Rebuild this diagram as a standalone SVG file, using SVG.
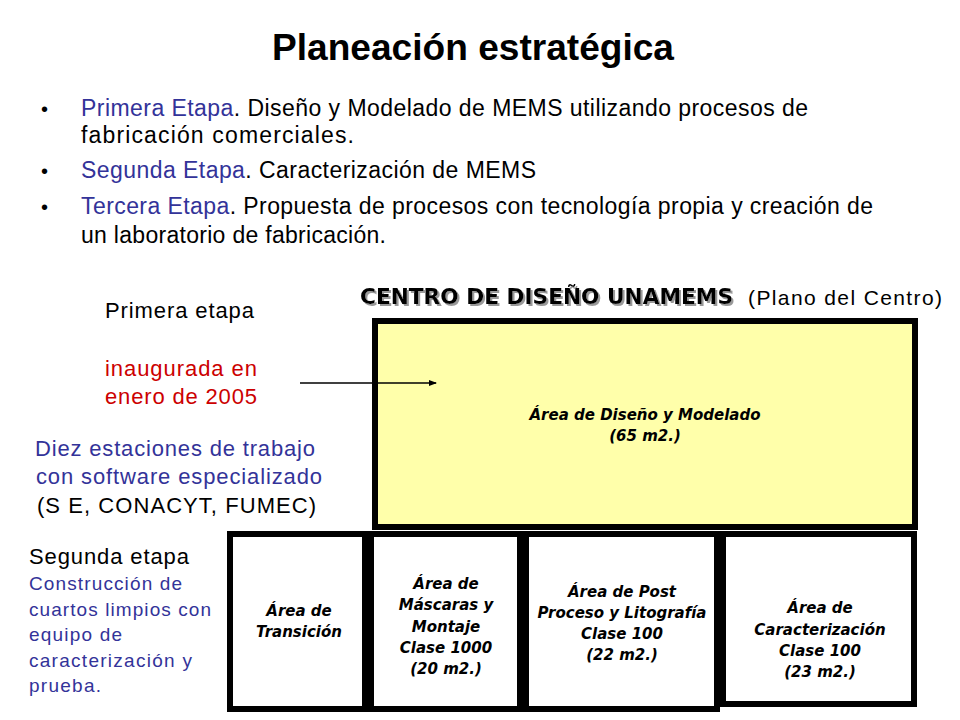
<svg xmlns="http://www.w3.org/2000/svg" width="960" height="720" viewBox="0 0 960 720">
<defs>
<style>
.t{font-family:"Liberation Sans",Arial,sans-serif;fill:#000}
.b{fill:#333399}
.r{fill:#CC0000}
.lbl{font-family:"DejaVu Sans",Verdana,sans-serif;font-weight:bold;font-style:italic;font-size:15px;fill:#000;text-anchor:middle}
.room{stroke:#000;stroke-width:6;fill:#fff}
</style>
<filter id="shadow" x="-5%" y="-30%" width="110%" height="160%">
<feOffset in="SourceAlpha" dx="2" dy="2" result="off"/>
<feFlood flood-color="#999999"/>
<feComposite in2="off" operator="in" result="sh"/>
<feMerge><feMergeNode in="sh"/><feMergeNode in="SourceGraphic"/></feMerge>
</filter>
<marker id="ah" markerWidth="8" markerHeight="8" refX="7" refY="4" orient="auto" markerUnits="userSpaceOnUse">
<path d="M0,1 L8,4 L0,7 Z" fill="#000"/>
</marker>
</defs>
<rect width="960" height="720" fill="#fff"/>

<g id="title">
<text class="t" x="272" y="60" font-size="37" font-weight="bold" textLength="402" lengthAdjust="spacingAndGlyphs">Planeación estratégica</text>
</g>

<g id="bullets" class="t" font-size="23">
<text x="41" y="116" font-size="20">•</text>
<text x="81" y="116" textLength="727" lengthAdjust="spacing"><tspan class="b">Primera Etapa</tspan>. Diseño y Modelado de MEMS utilizando procesos de</text>
<text x="81" y="143" textLength="273" lengthAdjust="spacing">fabricación comerciales.</text>
<text x="41" y="178" font-size="20">•</text>
<text x="81" y="178" textLength="455" lengthAdjust="spacing"><tspan class="b">Segunda Etapa</tspan>. Caracterización de MEMS</text>
<text x="41" y="214" font-size="20">•</text>
<text x="81" y="214" textLength="792" lengthAdjust="spacing"><tspan class="b">Tercera Etapa</tspan>. Propuesta de procesos con tecnología propia y creación de</text>
<text x="81" y="243" textLength="305" lengthAdjust="spacing">un laboratorio de fabricación.</text>
</g>

<g id="header">
<text x="360" y="304" font-family="DejaVu Sans,Verdana,sans-serif" font-weight="bold" font-size="22" fill="#000" textLength="373" lengthAdjust="spacingAndGlyphs" filter="url(#shadow)">CENTRO DE DISEÑO UNAMEMS</text>
<text class="t" x="748" y="305" font-size="21" textLength="194" lengthAdjust="spacing">(Plano del Centro)</text>
</g>

<g id="left-notes" class="t" font-size="22">
<text x="105" y="318" textLength="149" lengthAdjust="spacing">Primera etapa</text>
<text class="r" x="105" y="376" textLength="152" lengthAdjust="spacing">inaugurada en</text>
<text class="r" x="105" y="404" textLength="152" lengthAdjust="spacing">enero de 2005</text>
<text class="b" x="35" y="456" textLength="280" lengthAdjust="spacing">Diez estaciones de trabajo</text>
<text class="b" x="36" y="484" textLength="286" lengthAdjust="spacing">con software especializado</text>
<text x="37" y="513" textLength="279" lengthAdjust="spacing">(S E, CONACYT, FUMEC)</text>
<text x="29" y="564" textLength="160" lengthAdjust="spacing">Segunda etapa</text>
</g>
<g id="left-notes-2" class="t b" font-size="19">
<text x="29" y="590" textLength="153" lengthAdjust="spacing">Construcción de</text>
<text x="29" y="616" textLength="182" lengthAdjust="spacing">cuartos limpios con</text>
<text x="29" y="641" textLength="93" lengthAdjust="spacing">equipo de</text>
<text x="29" y="667" textLength="163" lengthAdjust="spacing">caracterización y</text>
<text x="29" y="692" textLength="72" lengthAdjust="spacing">prueba.</text>
</g>

<g id="area-diseno">
<rect x="375" y="321" width="540" height="206" stroke="#000" stroke-width="6" fill="#FFFFAA"/>
<text class="lbl" x="645" y="420">Área de Diseño y Modelado</text>
<text class="lbl" x="645" y="441">(65 m2.)</text>
</g>

<g id="area-transicion">
<rect class="room" x="230" y="534" width="135" height="175"/>
<text class="lbl" x="299" y="616">Área de</text>
<text class="lbl" x="299" y="637">Transición</text>
</g>

<g id="area-mascaras">
<rect class="room" x="371" y="534" width="149" height="175"/>
<text class="lbl" x="446" y="589">Área de</text>
<text class="lbl" x="446" y="610">Máscaras y</text>
<text class="lbl" x="446" y="632">Montaje</text>
<text class="lbl" x="446" y="653">Clase 1000</text>
<text class="lbl" x="446" y="674">(20 m2.)</text>
</g>

<g id="area-post">
<rect class="room" x="526" y="534" width="191" height="175"/>
<text class="lbl" x="622" y="597">Área de Post</text>
<text class="lbl" x="622" y="618">Proceso y Litografía</text>
<text class="lbl" x="622" y="639">Clase 100</text>
<text class="lbl" x="622" y="660">(22 m2.)</text>
</g>

<g id="area-caracterizacion">
<rect class="room" x="723" y="534" width="191" height="170"/>
<text class="lbl" x="820" y="613">Área de</text>
<text class="lbl" x="820" y="635">Caracterización</text>
<text class="lbl" x="820" y="656">Clase 100</text>
<text class="lbl" x="820" y="677">(23 m2.)</text>
</g>

<g id="connectors">
<line x1="300" y1="383" x2="436" y2="383" stroke="#000" stroke-width="1.3" marker-end="url(#ah)"/>
</g>
</svg>
